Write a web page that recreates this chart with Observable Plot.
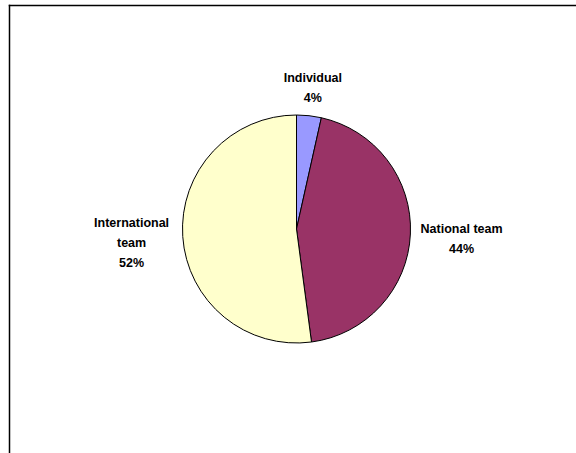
<!DOCTYPE html>
<html>
<head>
<meta charset="utf-8">
<script src="https://cdn.jsdelivr.net/npm/d3@7"></script>
<script src="https://cdn.jsdelivr.net/npm/@observablehq/plot@0.6"></script>
<style>
  html, body { margin: 0; padding: 0; background: #fff; }
  svg { display: block; }
</style>
</head>
<body>
<div id="chart"></div>
<script>
const categories = ["Individual", "National team", "International team"];
const shares = [3.5, 44.4, 52.1];
const sliceColors = ["#9999FF", "#993366", "#FFFFCC"];
const labelLines = [["Individual"], ["National team"], ["International", "team"]];

const data = categories.map((c, i) => ({category: c, value: shares[i], lines: labelLines[i]}));
const arcs = d3.pie().sort(null).value(d => d.value)(data);

// label positions in pie-radius units (outside the slice, along its mid angle)
const fs = 12.5, r0 = 114;
const labels = arcs.map(a => {
  const mid = (a.startAngle + a.endAngle) / 2;
  const nLines = a.data.lines.length + 1;
  const halfW = d3.max(a.data.lines, s => s.length) * 3.3;
  const halfH = nLines * fs * 1.6 / 2;
  const dist = r0 + 7 + Math.abs(Math.sin(mid)) * halfW + Math.abs(Math.cos(mid)) * halfH;
  return {
    x: Math.sin(mid) * dist / r0,
    y: Math.cos(mid) * dist / r0,
    text: a.data.lines.join("\n") + "\n" + Math.round(a.data.value) + "%"
  };
});

const pieMark = (index, scales, values, dimensions) => {
  const cx = scales.x(0), cy = scales.y(0);
  const r = scales.x(1) - scales.x(0);
  const arc = d3.arc().innerRadius(0).outerRadius(r);
  const g = d3.create("svg:g").attr("transform", `translate(${cx},${cy})`);
  g.selectAll("path").data(arcs).join("path")
    .attr("d", arc)
    .attr("fill", d => scales.color(d.data.category))
    .attr("stroke", "#000")
    .attr("stroke-width", 1)
    .attr("stroke-linejoin", "round");
  return g.node();
};

const chart = Plot.plot({
  width: 576,
  height: 453,
  marginLeft: 9,
  marginTop: 5,
  marginRight: 0,
  marginBottom: 0,
  style: {background: "#fff", fontFamily: "'Liberation Sans', Arial, sans-serif"},
  x: {domain: [-1, 1], range: [296.5 - r0, 296.5 + r0], axis: null},
  y: {domain: [-1, 1], range: [229 + r0, 229 - r0], axis: null},
  color: {domain: categories, range: sliceColors},
  marks: [
    Plot.frame({anchor: "left", stroke: "#000", strokeWidth: 1.5}),
    Plot.frame({anchor: "top", stroke: "#000", strokeWidth: 1.5}),
    pieMark,
    Plot.text(labels, {
      x: "x", y: "y", text: "text",
      fontSize: fs, fontWeight: "bold", fill: "#000",
      lineHeight: 1.6, textAnchor: "middle"
    })
  ]
});
document.getElementById("chart").appendChild(chart);
</script>
</body>
</html>
